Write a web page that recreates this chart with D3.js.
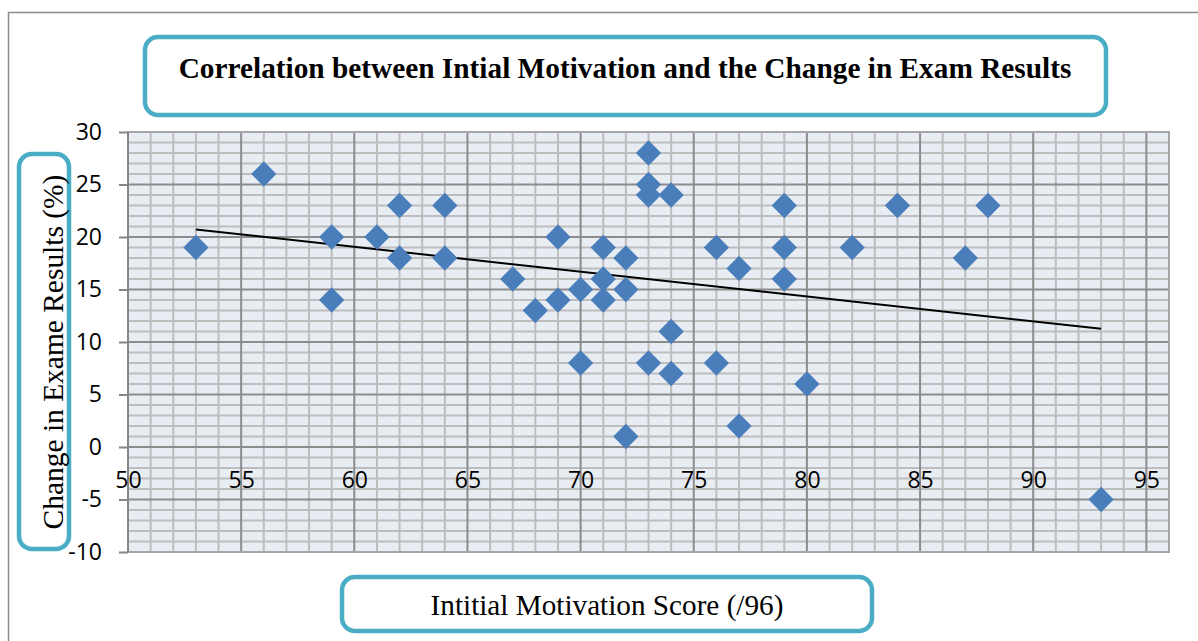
<!DOCTYPE html>
<html>
<head>
<meta charset="utf-8">
<script src="https://cdn.jsdelivr.net/npm/d3@7/dist/d3.min.js"></script>
<style>
  html, body { margin: 0; padding: 0; background: #fff; }
  svg { display: block; }
</style>
</head>
<body>
<svg id="chart" width="1198" height="641"></svg>
<script>
// ---- data ----
const motivationScores = [53,56,59,59,61,62,62,64,64,67,68,69,69,70,70,71,71,71,72,72,72,73,73,73,73,74,74,74,76,76,77,77,79,79,79,80,82,84,87,88,93];
const examChanges      = [19,26,20,14,20,23,18,23,18,16,13,20,14,15,8,19,16,14,18,15,1,28,25,24,8,24,11,7,19,8,17,2,23,19,16,6,19,23,18,23,-5];
const xTickLabels = [50,55,60,65,70,75,80,85,90,95];
const yTickLabels = [-10,-5,0,5,10,15,20,25,30];
const titleText = "Correlation between Intial Motivation and the Change in Exam Results";
const xAxisTitle = "Intitial Motivation Score (/96)";
const yAxisTitle = "Change in Exame Results (%)";

// ---- layout ----
const svg = d3.select("#chart");
const plot = { left: 128, right: 1169, top: 132, bottom: 552 };
const x = d3.scaleLinear().domain([50, 96]).range([plot.left, plot.right]);
const y = d3.scaleLinear().domain([-10, 30]).range([plot.bottom, plot.top]);

const teal = "#4BACC6";
const fmt = d => String(d); // plain hyphen-minus like the reference

// outer frame (top & left visible)
svg.append("path")
  .attr("d", `M1200,12.5 H8.5 V645`)
  .attr("fill", "none").attr("stroke", "#8a8a8a").attr("stroke-width", 1.5);

// plot background
svg.append("rect")
  .attr("x", plot.left).attr("y", plot.top)
  .attr("width", plot.right - plot.left).attr("height", plot.bottom - plot.top)
  .attr("fill", "#E8EDF4");

// minor grid
const minorX = d3.range(51, 96.01, 1).filter(v => v % 5 !== 0);
const minorY = d3.range(-9, 30, 1).filter(v => v % 5 !== 0);
const g = svg.append("g");
g.selectAll(".mx").data(minorX).join("line")
  .attr("x1", d => x(d)).attr("x2", d => x(d))
  .attr("y1", plot.top).attr("y2", plot.bottom)
  .attr("stroke", "#BDBDBD").attr("stroke-width", 2);
g.selectAll(".my").data(minorY).join("line")
  .attr("x1", plot.left).attr("x2", plot.right)
  .attr("y1", d => y(d)).attr("y2", d => y(d))
  .attr("stroke", "#BDBDBD").attr("stroke-width", 2);
// major grid
g.selectAll(".Mx").data(xTickLabels.filter(v => v > 50)).join("line")
  .attr("x1", d => x(d)).attr("x2", d => x(d))
  .attr("y1", plot.top).attr("y2", plot.bottom)
  .attr("stroke", "#8C8C8C").attr("stroke-width", 2);
g.selectAll(".My").data(yTickLabels.filter(v => v > -10 && v < 30)).join("line")
  .attr("x1", plot.left).attr("x2", plot.right)
  .attr("y1", d => y(d)).attr("y2", d => y(d))
  .attr("stroke", "#8C8C8C").attr("stroke-width", 2);

// plot border
svg.append("rect")
  .attr("x", plot.left).attr("y", plot.top)
  .attr("width", plot.right - plot.left).attr("height", plot.bottom - plot.top)
  .attr("fill", "none").attr("stroke", "#A6A6A6").attr("stroke-width", 2);
svg.append("line")
  .attr("x1", plot.left).attr("x2", plot.left)
  .attr("y1", plot.top).attr("y2", plot.bottom)
  .attr("stroke", "#868686").attr("stroke-width", 2);

// y axis via d3 axis
const yAxis = d3.axisLeft(y).tickValues(yTickLabels).tickFormat(fmt).tickSize(9).tickPadding(17);
const yg = svg.append("g").attr("transform", `translate(${plot.left},0)`).call(yAxis);
yg.select(".domain").remove();
yg.selectAll(".tick line").attr("stroke", "#868686").attr("stroke-width", 2);
yg.selectAll(".tick text")
  .attr("font-family", "'Open Sans', sans-serif").attr("font-size", 23).attr("fill", "#000");

// x axis labels (axis crosses at y = 0)
const xAxis = d3.axisBottom(x).tickValues(xTickLabels).tickFormat(fmt).tickSize(0).tickPadding(25);
const xg = svg.append("g").attr("transform", `translate(0,${y(0)})`).call(xAxis);
xg.select(".domain").remove();
xg.selectAll(".tick text")
  .attr("font-family", "'Open Sans', sans-serif").attr("font-size", 23).attr("fill", "#000");

// trendline (least squares)
const n = motivationScores.length;
const mx = d3.mean(motivationScores), my = d3.mean(examChanges);
let sxy = 0, sxx = 0;
for (let i = 0; i < n; i++) {
  sxy += (motivationScores[i] - mx) * (examChanges[i] - my);
  sxx += (motivationScores[i] - mx) ** 2;
}
const slope = sxy / sxx, intercept = my - slope * mx;
const [x0, x1] = d3.extent(motivationScores);
svg.append("line")
  .attr("x1", x(x0)).attr("y1", y(intercept + slope * x0))
  .attr("x2", x(x1)).attr("y2", y(intercept + slope * x1))
  .attr("stroke", "#000").attr("stroke-width", 2);

// markers
const pts = motivationScores.map((v, i) => ({ x: v, y: examChanges[i] }));
const diamond = d3.symbol().type(d3.symbolSquare).size(320);
svg.append("g").selectAll("path").data(pts).join("path")
  .attr("d", diamond)
  .attr("transform", d => `translate(${x(d.x)},${y(d.y)}) rotate(45)`)
  .attr("fill", "#4A7EBB");

// helper: rounded box
function box(x0, y0, w, h) {
  svg.append("rect").attr("x", x0).attr("y", y0).attr("width", w).attr("height", h)
    .attr("rx", 13).attr("ry", 13)
    .attr("fill", "#fff").attr("stroke", teal).attr("stroke-width", 4.5);
}
function fitText(sel, target) {
  const w = sel.node().getComputedTextLength();
  const fs = parseFloat(sel.attr("font-size"));
  sel.attr("font-size", fs * target / w);
}

// title
box(145, 37, 961, 78);
const t = svg.append("text").attr("x", 625).attr("y", 78)
  .attr("text-anchor", "middle")
  .attr("font-family", "'Liberation Serif', 'Times New Roman', serif")
  .attr("font-weight", "bold").attr("font-size", 26).attr("fill", "#000")
  .text(titleText);
fitText(t, 893);

// x axis title
box(342, 577, 530, 54);
const xt = svg.append("text").attr("x", 607).attr("y", 615)
  .attr("text-anchor", "middle")
  .attr("font-family", "'Liberation Serif', 'Times New Roman', serif")
  .attr("font-size", 24).attr("fill", "#000")
  .text(xAxisTitle);
fitText(xt, 353);

// y axis title
box(19, 154, 50, 395);
const yt = svg.append("text")
  .attr("transform", "translate(63,352) rotate(-90)")
  .attr("text-anchor", "middle")
  .attr("font-family", "'Liberation Serif', 'Times New Roman', serif")
  .attr("font-size", 24).attr("fill", "#000")
  .text(yAxisTitle);
fitText(yt, 355);
</script>
</body>
</html>
